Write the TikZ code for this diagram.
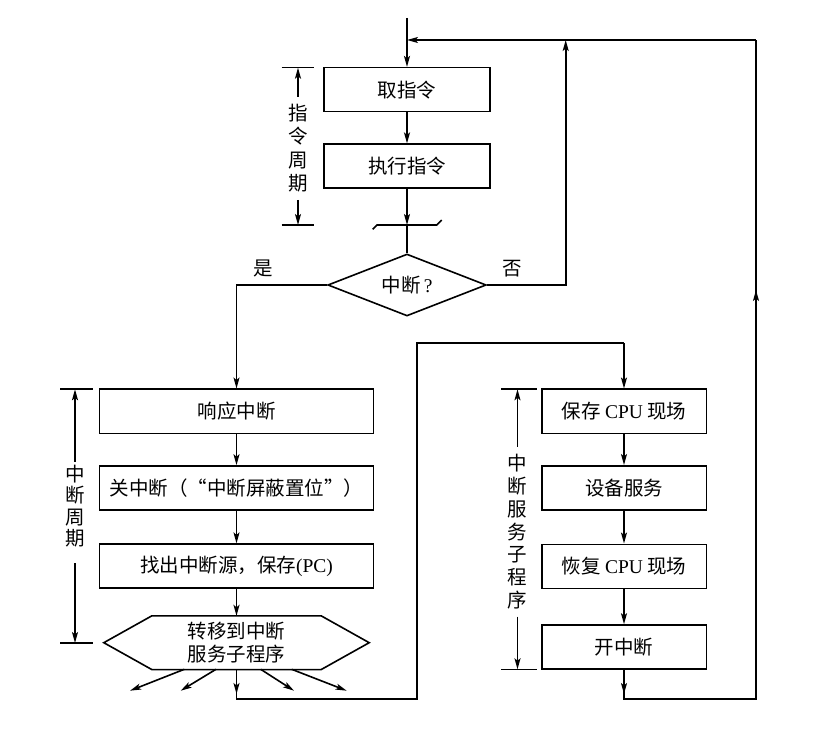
\documentclass[tikz,border=0pt]{standalone}
\usepackage{fontspec}
\setmainfont{Noto Sans CJK SC}
\newfontfamily\lat{Liberation Serif}
\usetikzlibrary{arrows.meta,shapes.geometric,calc}
\newcommand{\fsz}{\fontsize{19.5}{23}\selectfont}
\tikzset{
  ln/.style={line width=1.6pt},
  arr/.style={ln, -{Stealth[length=11pt,width=6pt,inset=2.5pt]}},
  box/.style={draw, ln, minimum height=44pt, inner sep=0pt, font=\fsz},
  lbox/.style={box, minimum width=274pt},
  rbox/.style={box, minimum width=164.6pt},
  tbox/.style={box, minimum width=165.7pt},
  vlab/.style={inner sep=0pt, align=center},
  txt/.style={inner sep=0pt, font=\fsz},
}
\begin{document}
\begin{tikzpicture}[x=1pt,y=-1pt]
\useasboundingbox (0,0) rectangle (823,746);

% instruction cycle
\coordinate (start) at (407,18);
\node[tbox] (fetch) at (407,89.7) {取指令};
\node[tbox] (exec) at (407,166.2) {执行指令};
\coordinate (brk) at (407,225);
\node[diamond, draw, ln, aspect=2.5, minimum width=158.4pt, minimum height=62pt, inner sep=0pt, font=\fsz] (dec) at (407,285) {中断{\lat\,?}};

\draw[arr] (start) -- (fetch.north);
\draw[arr] (fetch) -- (exec);
\draw[arr] (exec) -- (brk);
\draw[ln] (brk) -- (dec.north);
\draw[ln] ($(brk)+(-34.3,4.3)$) -- ($(brk)+(-30,0)$) -- ($(brk)+(29.7,0)$) -- ($(brk)+(34.7,-5)$);

\node[txt] (yes) at (263,269) {是};
\node[txt] (no) at (512.7,269) {否};

% interrupt cycle
\node[lbox] (resp) at (236.5,411.3) {响应中断};
\node[lbox] (cli) at (236.5,488) {关中断（“中断屏蔽置位”）};
\node[lbox] (find) at (236.5,566.2) {找出中断源，保存{\lat(PC)}};
\node[inner sep=0pt, minimum width=265pt, minimum height=53.3pt, align=center, font=\fsz] (jump) at (236.5,642.7) {转移到中断\\服务子程序};
\draw[ln] (jump.west) -- ($(jump.north west)+(48,0)$) -- ($(jump.north east)+(-48,0)$) -- (jump.east) -- ($(jump.south east)+(-48,0)$) -- ($(jump.south west)+(48,0)$) -- cycle;

\draw[arr] (dec.west) -| (resp.north);
\draw[arr] (resp) -- (cli);
\draw[arr] (cli) -- (find);
\draw[arr] (find) -- (jump.north);

% fan arrows
\coordinate (f1s) at (184.3,669.3); \coordinate (f1e) at (130,690.7);
\coordinate (f2s) at (216,669.3);   \coordinate (f2e) at (180.7,690.7);
\coordinate (f3s) at (260.7,669.3); \coordinate (f3e) at (294,690.7);
\coordinate (f4s) at (291.7,669.3); \coordinate (f4e) at (346.7,690.7);
\draw[arr] (f1s) -- (f1e);
\draw[arr] (f2s) -- (f2e);
\draw[arr] (f3s) -- (f3e);
\draw[arr] (f4s) -- (f4e);

% link to service routine
\coordinate (jarr) at (236.5,694);
\coordinate (jb) at (236.5,698.7);
\coordinate (ja) at (416.7,698.7);
\coordinate (jc) at (416.7,343.3);
\node[rbox] (save) at (624,411.3) {保存 {\lat CPU} 现场};
\node[rbox] (dev) at (624,487.8) {设备服务};
\node[rbox] (rest) at (624,566.3) {恢复 {\lat CPU} 现场};
\node[rbox] (ison) at (624,647) {开中断};
\coordinate (jd) at (save.north |- jc);

\draw[arr] (jump.south) -- (jarr);
\draw[ln] (jump.south) -- (jb) -- (ja) -- (jc) -- (jd);
\draw[arr] (jd) -- (save.north);
\draw[arr] (save) -- (dev);
\draw[arr] (dev) -- (rest);
\draw[arr] (rest) -- (ison);

% return loop
\coordinate (rarr) at (624,694);
\coordinate (ra) at (624,698.7);
\coordinate (rb) at (756,698.7);
\coordinate (rm) at (756,290);
\coordinate (rc) at (756,40);
\coordinate (rd) at (407,40);
\coordinate (nt) at (565.7,40);
\draw[arr] (ison.south) -- (rarr);
\draw[ln] (ison.south) -- (ra) -- (rb) -- (rc);
\draw[arr] (rb) -- (rm);
\draw[arr] (rc) -- (rd);
\draw[arr] (dec.east) -| (nt);

% bracket 1: instruction cycle
\node[vlab, font=\fontsize{19.5}{23.3}\selectfont] (b1) at (298,148) {指\\令\\周\\期};
\coordinate (b1t) at (298,67.7);
\coordinate (b1b) at (298,225);
\coordinate (b1u) at (298,97);
\coordinate (b1d) at (298,200);
\draw[ln] (281.7,67.7) -- (314,67.7);
\draw[ln] (281.7,225) -- (314,225);
\draw[arr] (b1u) -- (b1t);
\draw[arr] (b1d) -- (b1b);

% bracket 2: interrupt cycle
\node[vlab, font=\fontsize{19.5}{21.5}\selectfont] (b2) at (75,506.3) {中\\断\\周\\期};
\coordinate (b2t) at (75,389.3);
\coordinate (b2b) at (75,643);
\coordinate (b2u) at (75,461.7);
\coordinate (b2d) at (75,563);
\draw[ln] (60,389.3) -- (93.3,389.3);
\draw[ln] (60,643) -- (93.3,643);
\draw[arr] (b2u) -- (b2t);
\draw[arr] (b2d) -- (b2b);

% bracket 3: interrupt service routine
\node[vlab, font=\fontsize{19.5}{22.8}\selectfont] (b3) at (517.5,531.7) {中\\断\\服\\务\\子\\程\\序};
\coordinate (b3t) at (517.5,389.3);
\coordinate (b3b) at (517.5,669.3);
\coordinate (b3u) at (517.5,446.7);
\coordinate (b3d) at (517.5,616.7);
\draw[ln] (501,389.3) -- (537,389.3);
\draw[ln] (501,669.3) -- (537,669.3);
\draw[arr] (b3u) -- (b3t);
\draw[arr] (b3d) -- (b3b);
\end{tikzpicture}
\end{document}
